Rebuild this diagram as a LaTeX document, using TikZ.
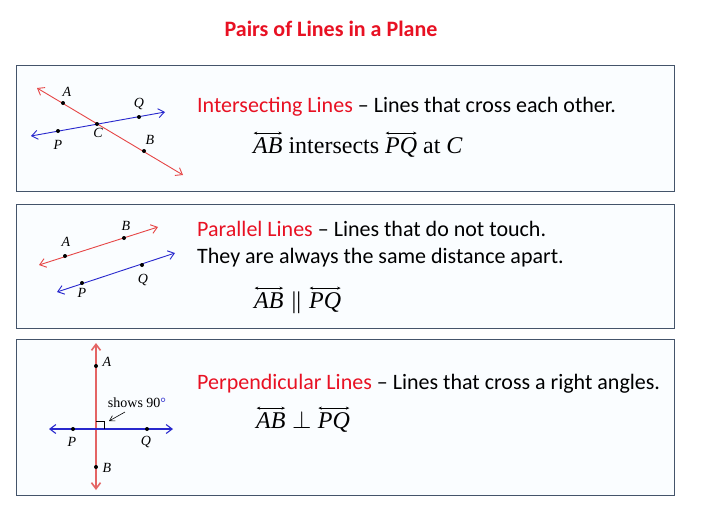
\documentclass[tikz,border=0pt]{standalone}
\usepackage{amsmath}
\usepackage{fontspec}
\setmainfont{Liberation Serif}
\newfontfamily\calib{Carlito}
\usetikzlibrary{arrows.meta}
\definecolor{ttlred}{RGB}{232,17,35}
\definecolor{lred}{RGB}{230,70,70}
\definecolor{pred}{RGB}{228,100,100}
\definecolor{lblue}{RGB}{40,40,205}
\definecolor{frm}{RGB}{68,84,106}
\definecolor{boxbg}{RGB}{250,253,255}
\newcommand{\lineab}[1]{\tikz[baseline=(t.base)]{\node[inner sep=0pt,outer sep=0pt] (t) {\itshape #1};
  \draw[line width=0.6pt, {Stealth[length=3.5pt,width=3pt]}-{Stealth[length=3.5pt,width=3pt]}]
    ([yshift=4pt,xshift=0.5pt]t.north west) -- ([yshift=4pt,xshift=-0.5pt]t.north east);}}
\tikzset{
  panel/.style={draw=frm, line width=0.9pt, fill=boxbg},
  dbl/.style={line width=0.9pt, {Straight Barb[length=6pt,width=9pt]}-{Straight Barb[length=6pt,width=9pt]}},
  redln/.style={dbl, draw=lred},
  blueln/.style={dbl, draw=lblue},
  pt/.style={circle, fill=black, inner sep=0pt, minimum size=4pt},
  lbl/.style={inner sep=0pt, font=\fontsize{14}{14}\selectfont\itshape},
  head/.style={anchor=base west, inner sep=0pt, font=\calib\fontsize{22}{26}\selectfont},
  mth/.style={anchor=base west, inner sep=0pt, font=\fontsize{24}{28}\selectfont},
  ttl/.style={inner sep=0pt, font=\calib\bfseries\fontsize{22}{24}\selectfont, text=ttlred}
}
\begin{document}
\begin{tikzpicture}[x=1pt,y=-1pt]
\useasboundingbox[fill=white] (0,0) rectangle (703,520);
\node[ttl] (title) at (331,29) {Pairs of Lines in a Plane};
% panels
\draw[panel] (16,65) rectangle (674,191);
\draw[panel] (16,204) rectangle (674,328);
\draw[panel] (16,339) rectangle (674,495);

% ---- panel 1: intersecting
\coordinate (r1s) at (37,88);
\coordinate (r1e) at (183,175);
\coordinate (b1s) at (31,136);
\coordinate (b1e) at (165,112);
\draw[redln] (r1s) -- (r1e);
\draw[blueln] (b1s) -- (b1e);
\node[pt] (A1) at (63,103) {};
\node[pt] (B1) at (144,151) {};
\node[pt] (C1) at (97,124) {};
\node[pt] (P1) at (58,131) {};
\node[pt] (Q1) at (139,117) {};
\node[lbl] (lA1) at (67,92) {A};
\node[lbl] (lB1) at (150,140) {B};
\node[lbl] (lC1) at (98,133) {C};
\node[lbl] (lP1) at (58,145) {P};
\node[lbl] (lQ1) at (139,104) {Q};
\node[head] (h1) at (197,112) {\textcolor{ttlred}{Intersecting Lines} – Lines that cross each other.};
\node[mth] (m1) at (253,153) {\lineab{AB} intersects \lineab{PQ} at \textit{C}};

% ---- panel 2: parallel
\coordinate (r2s) at (39,265);
\coordinate (r2e) at (158,227);
\coordinate (b2s) at (57,292);
\coordinate (b2e) at (175,253);
\draw[redln] (r2s) -- (r2e);
\draw[blueln] (b2s) -- (b2e);
\node[pt] (A2) at (65,256) {};
\node[pt] (B2) at (124,238) {};
\node[pt] (P2) at (82,283) {};
\node[pt] (Q2) at (142,265) {};
\node[lbl] (lA2) at (66,242) {A};
\node[lbl] (lB2) at (126,226) {B};
\node[lbl] (lP2) at (82,293) {P};
\node[lbl] (lQ2) at (143,280) {Q};
\node[head] (h2a) at (197,236) {\textcolor{ttlred}{Parallel Lines} – Lines that do not touch.};
\node[head] (h2b) at (197,263) {They are always the same distance apart.};
\node[mth] (m2) at (254,308) {\lineab{AB}\hspace{8pt}||\hspace{8pt}\lineab{PQ}};

% ---- panel 3: perpendicular
\coordinate (r3s) at (96,343);
\coordinate (r3e) at (96,490);
\coordinate (b3s) at (49,429);
\coordinate (b3e) at (173,429);
\draw[dbl, draw=pred, line width=1.6pt] (r3s) -- (r3e);
\draw[blueln, line width=1.1pt] (b3s) -- (b3e);
\draw[black, line width=0.7pt] (96,421) -- (104,421) -- (104,429);
\node[pt] (A3) at (96,366) {};
\node[pt] (B3) at (96,467) {};
\node[pt] (P3) at (73,429) {};
\node[pt] (Q3) at (147,429) {};
\node[lbl] (lA3) at (107,362) {A};
\node[lbl] (lB3) at (107,468) {B};
\node[lbl] (lP3) at (72,442) {P};
\node[lbl] (lQ3) at (146,442) {Q};
\node[inner sep=0pt, font=\fontsize{14}{14}\selectfont] (shows) at (137,403) {shows 90\textcolor{lblue}{°}};
\coordinate (sh1) at (125,412);
\coordinate (sh2) at (109,421);
\draw[line width=0.6pt, -{Straight Barb[length=5pt,width=6pt]}] (sh1) -- (sh2);
\node[head] (h3) at (197,389) {\textcolor{ttlred}{Perpendicular Lines} – Lines that cross a right angles.};
\node[mth] (m3) at (256,428) {\lineab{AB}\hspace{6.5pt}$\perp$\hspace{6.5pt}\lineab{PQ}};
\end{tikzpicture}
\end{document}
